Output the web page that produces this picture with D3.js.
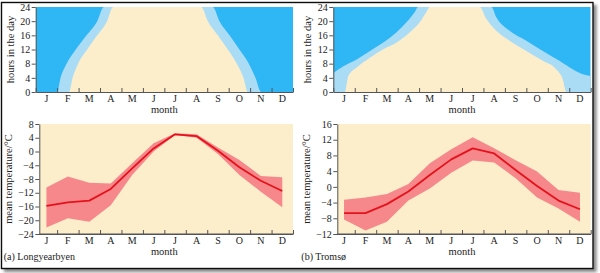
<!DOCTYPE html>
<html>
<head>
<meta charset="utf-8">
<title>Daylight and temperature</title>
<script src="https://cdnjs.cloudflare.com/ajax/libs/d3/7.8.5/d3.min.js"></script>
<style>
  html, body { margin:0; padding:0; background:#fff; }
  text { font-family: "Liberation Serif", "Times New Roman", serif; fill:#222; }
</style>
</head>
<body>
<script>
// month letters under each x axis
var months = ["J","F","M","A","M","J","J","A","S","O","N","D"];

// daylight panels: [month position, hours]
// "twilight" is the top of the light blue band, "day" the top of the beige one
var lyrTwilight = [[0,0],[1.0,0],[1.16,4],[1.44,8],[1.87,12],[2.37,16],[2.87,20],[3.18,24],
                   [8.26,24],[8.57,20],[9.04,16],[9.50,12],[9.94,8],[10.25,4],[10.51,0],[12,0]];
var lyrDay = [[0,0],[1.56,0],[1.72,4],[1.98,8],[2.40,12],[2.87,16],[3.33,20],[3.61,24],
              [7.72,24],[8.03,20],[8.49,16],[8.96,12],[9.38,8],[9.69,4],[9.89,0],[12,0]];
var tromTwilight = [[0,5.4],[0.47,7.3],[1.09,9.2],[1.71,11.6],[2.33,14.0],[2.95,16.9],[3.41,19.7],[3.80,22.6],[3.95,24],
                    [7.37,24],[7.60,21.1],[8.22,17.3],[9.00,14.5],[9.77,11.6],[10.54,8.8],[11.16,6.4],[11.63,5.0],[12,4.5]];
var tromDay = [[0,0],[0.54,0],[0.70,4.5],[1.09,6.9],[1.71,9.7],[2.33,12.1],[2.95,14.0],[3.57,16.9],[4.03,19.7],[4.34,22.6],[4.50,24],
               [6.82,24],[7.13,20.7],[7.60,17.3],[8.22,14.5],[9.00,11.6],[9.77,8.8],[10.39,6.4],[10.70,3.5],[10.86,0],[12,0]];

// monthly mean temperature with the spread band (deg C)
var lyrMean = [-15.8,-14.8,-14.3,-10.9,-4.9,0.9,5.0,4.5,0.2,-4.6,-8.5,-11.5];
var lyrHigh = [-10.5,-7.3,-9.1,-9.3,-3.4,2.4,5.3,5.0,1.2,-2.5,-7.1,-7.5];
var lyrLow  = [-22.1,-19.4,-20.4,-15.6,-6.8,0.0,4.8,4.0,-0.7,-6.8,-11.7,-16.2];
var tromMean = [-6.7,-6.7,-4.4,-1.2,3.0,7.0,9.8,8.5,4.3,0.2,-3.5,-5.7];
var tromHigh = [-3.3,-2.7,-1.8,0.7,6.0,9.6,12.6,9.8,6.8,3.9,-0.8,-1.5];
var tromLow  = [-8.3,-11.1,-8.9,-3.5,-0.4,3.6,6.7,6.2,2.2,-2.7,-5.5,-8.9];

var hourTicks = [0,4,8,12,16,20,24];
var lyrTempTicks = [-24,-20,-16,-12,-8,-4,0,4,8];
var tromTempTicks = [-12,-8,-4,0,4,8,12,16];

var darkBlue = "#2fb6f4", lightBlue = "#aadcf6", beige = "#fdeecb";
var bandCol = "#f6888c", lineCol = "#e5121b", axisCol = "#555";

var svg = d3.select("body").append("svg").attr("width",600).attr("height",273);

// frame with shadow
var defs = svg.append("defs");
var f = defs.append("filter").attr("id","shadow").attr("x","-5%").attr("y","-5%").attr("width","115%").attr("height","115%");
f.append("feDropShadow").attr("dx",3).attr("dy",3).attr("stdDeviation",1.8)
  .attr("flood-color","#000").attr("flood-opacity",0.45);
svg.append("rect").attr("x",1.5).attr("y",2.5).attr("width",591.5).attr("height",266)
  .attr("fill","#fff").attr("stroke","#111").attr("stroke-width",1.4)
  .attr("filter","url(#shadow)");

function monthAxis(g, x, y0, from) {
  g.append("g").attr("transform","translate(0,"+y0+")")
    .call(d3.axisBottom(x).tickValues(d3.range(from,13)).tickFormat("").tickSize(-4).tickSizeOuter(0))
    .call(function(a){ a.selectAll("line,path").attr("stroke",axisCol); });
  g.selectAll("text.m").data(months).enter().append("text").attr("class","m")
    .attr("x",function(d,i){ return x(i+0.5); }).attr("y",y0+10)
    .attr("text-anchor","middle").attr("font-size",10).text(function(d){ return d; });
  g.append("text").attr("x",x(6)).attr("y",y0+21).attr("text-anchor","middle")
    .attr("font-size",10.5).text("month");
}

function yAxis(g, y, left, ticks, title, tx) {
  g.append("g").attr("transform","translate("+left+",0)")
    .call(d3.axisLeft(y).tickValues(ticks).tickSize(4).tickSizeOuter(0).tickPadding(1.5))
    .call(function(a){
      a.selectAll("line,path").attr("stroke",axisCol);
      a.selectAll("text").attr("font-family","Liberation Serif, serif").attr("font-size",10).attr("fill","#222");
    });
  var mid = (y.range()[0] + y.range()[1]) / 2;
  g.append("text").attr("transform","translate("+tx+","+mid+") rotate(-90)")
    .attr("text-anchor","middle").attr("font-size",10.5).text(title);
}

function dayPanel(x0, x1, twilight, day, id) {
  var top = 7, bot = 92;
  var x = d3.scaleLinear().domain([0,12]).range([x0,x1]);
  var y = d3.scaleLinear().domain([0,24]).range([bot,top]);
  var g = svg.append("g");
  defs.append("clipPath").attr("id",id).append("rect")
    .attr("x",x0).attr("y",top).attr("width",x1-x0).attr("height",bot-top);
  var area = d3.area().x(function(d){ return x(d[0]); }).y0(y(0))
    .y1(function(d){ return y(d[1]); }).curve(d3.curveMonotoneX);
  var p = g.append("g").attr("clip-path","url(#"+id+")");
  p.append("rect").attr("x",x0).attr("y",top).attr("width",x1-x0).attr("height",bot-top).attr("fill",darkBlue);
  p.append("path").datum(twilight).attr("d",area).attr("fill",lightBlue);
  p.append("path").datum(day).attr("d",area).attr("fill",beige);
  monthAxis(g, x, bot, 0);
  yAxis(g, y, x0, hourTicks, "hours in the day", x0 - 22);
}

function tempPanel(x0, x1, plotLeft, dom, ticks, mean, high, low, label) {
  var top = 124, bot = 234;
  var x = d3.scaleLinear().domain([0,12]).range([x0,x1]);
  var y = d3.scaleLinear().domain(dom).range([bot,top]);
  var g = svg.append("g");
  g.append("rect").attr("x",plotLeft).attr("y",top).attr("width",x1-plotLeft).attr("height",bot-top).attr("fill",beige);
  var band = d3.area().x(function(d,i){ return x(i+0.5); })
    .y0(function(d,i){ return y(low[i]); }).y1(function(d,i){ return y(high[i]); });
  g.append("path").datum(mean).attr("d",band).attr("fill",bandCol);
  var line = d3.line().x(function(d,i){ return x(i+0.5); }).y(function(d){ return y(d); });
  g.append("path").datum(mean).attr("d",line).attr("fill","none")
    .attr("stroke",lineCol).attr("stroke-width",1.8).attr("stroke-linejoin","round");
  monthAxis(g, x, bot, 1);
  g.append("line").attr("x1",plotLeft).attr("x2",x1).attr("y1",bot).attr("y2",bot).attr("stroke",axisCol);
  yAxis(g, y, plotLeft, ticks, "mean temperature/\u00b0C", plotLeft - 27);
  g.append("text").attr("x",x0 - 32).attr("y",260).attr("font-size",10).text(label);
}

dayPanel(35.7, 293, lyrTwilight, lyrDay, "clipA");
dayPanel(333.3, 590.7, tromTwilight, tromDay, "clipB");
tempPanel(35.7, 293, 39.3, [-24,8], lyrTempTicks, lyrMean, lyrHigh, lyrLow, "(a) Longyearbyen");
tempPanel(333.3, 590.7, 337.3, [-12,16], tromTempTicks, tromMean, tromHigh, tromLow, "(b) Troms\u00f8");
</script>
</body>
</html>
